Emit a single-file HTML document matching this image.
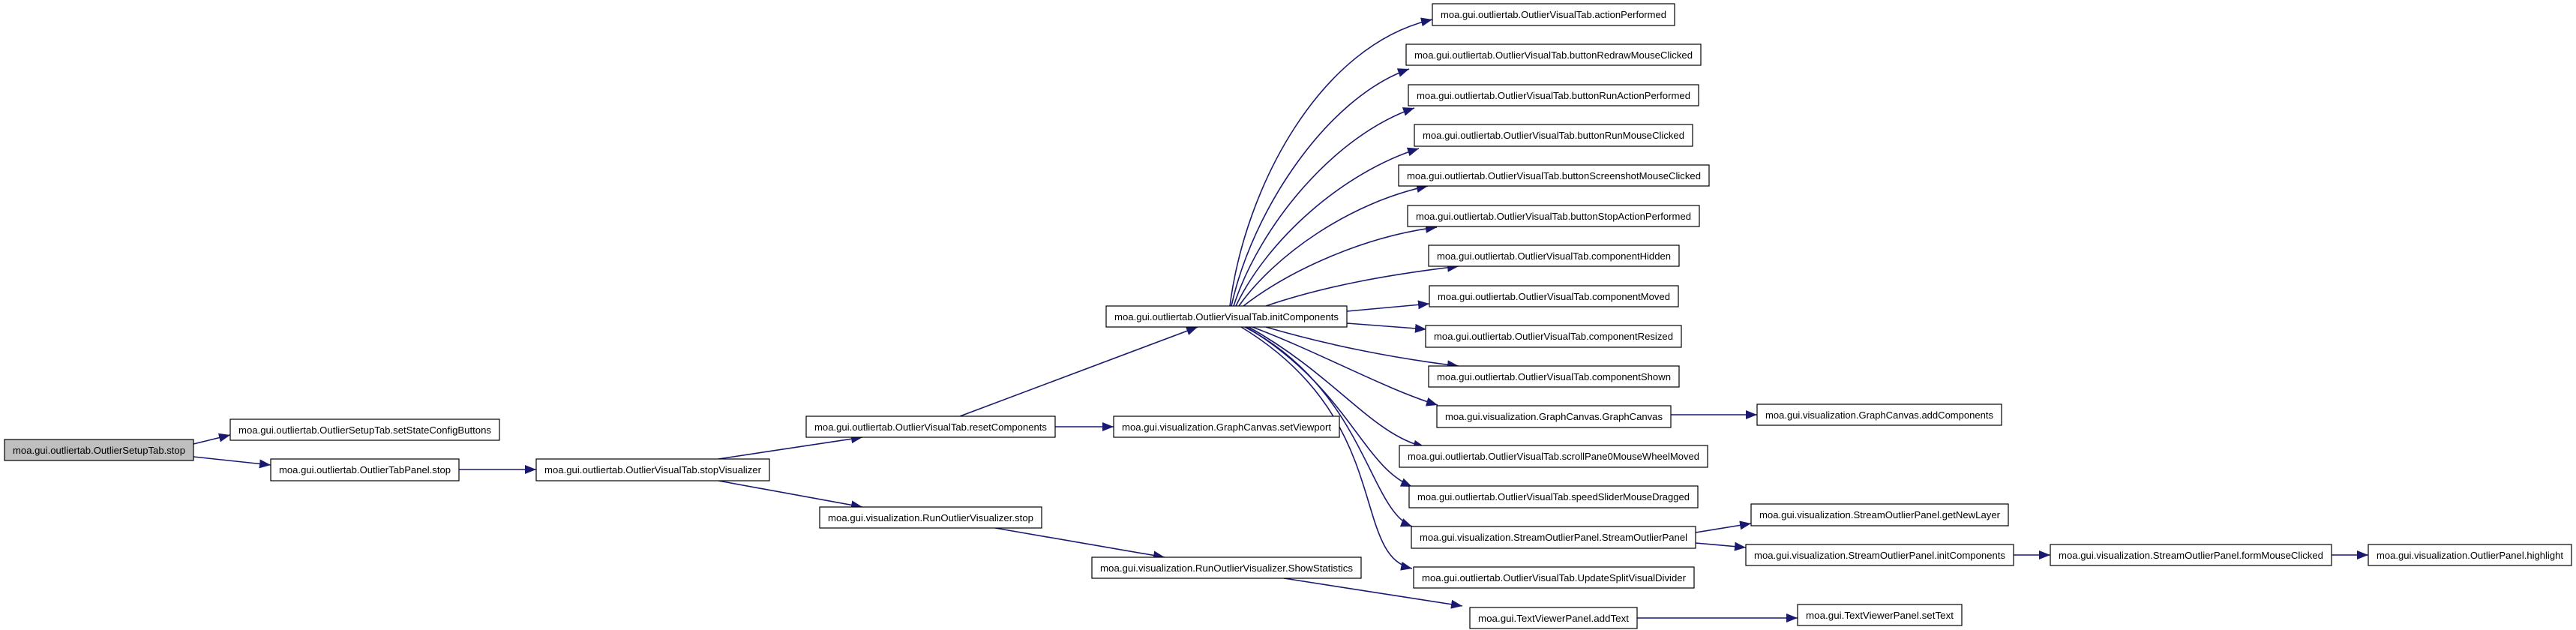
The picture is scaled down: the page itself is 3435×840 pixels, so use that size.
<!DOCTYPE html>
<html><head><meta charset="utf-8"><style>
html,body{margin:0;padding:0;background:#fff;}
svg{display:block;}
text{font-family:"Liberation Sans",sans-serif;font-size:13px;fill:#000;}
</style></head><body>
<svg width="3435" height="840" viewBox="0 0 3435 840" xmlns="http://www.w3.org/2000/svg">
<defs>
<marker id="a" markerWidth="16" markerHeight="12" refX="15" refY="6" orient="auto" markerUnits="userSpaceOnUse">
<polygon points="0,0 15,6 0,12" fill="#191970"/>
</marker>
</defs>
<g fill="none" stroke="#191970" stroke-width="1.6" marker-end="url(#a)">
<path d="M258,592 L307,580"/>
<path d="M258,609 L361,620"/>
<path d="M612,626 L715,626"/>
<path d="M958,612 L1150,583"/>
<path d="M958,641 L1150,676"/>
<path d="M1280,555 L1597,436"/>
<path d="M1407,569 L1485,569"/>
<path d="M1327,704 L1553,743"/>
<path d="M1712,771 L1950,808"/>
<path d="M2183,824 L2397,824"/>
<path d="M2228,553 L2343,553"/>
<path d="M2261,710 L2335,698"/>
<path d="M2261,724 L2328,730"/>
<path d="M2685,740 L2734,740"/>
<path d="M3109,740 L3158,740"/>
<path d="M1640,408 C1660,250 1760,60 1910,26"/>
<path d="M1642,408 C1670,280 1770,130 1879,92"/>
<path d="M1645,408 C1680,300 1780,180 1886,144"/>
<path d="M1648,408 C1690,320 1790,230 1892,198"/>
<path d="M1652,408 C1700,340 1800,270 1904,248"/>
<path d="M1658,408 C1720,360 1820,315 1916,303"/>
<path d="M1688,408 C1770,380 1860,365 1945,355"/>
<path d="M1796,415 L1906,405"/>
<path d="M1796,431 L1902,439"/>
<path d="M1688,436 C1770,460 1860,478 1945,488"/>
<path d="M1670,436 C1760,470 1850,520 1917,540"/>
<path d="M1665,436 C1780,500 1830,580 1900,596"/>
<path d="M1662,436 C1800,520 1815,620 1883,649"/>
<path d="M1660,436 C1820,520 1825,680 1883,702"/>
<path d="M1655,436 C1860,560 1800,740 1883,758"/>
</g>
<g stroke="#000" stroke-width="1.2" fill="#fff">
<rect x="6" y="586" width="252" height="28" fill="#bfbfbf"/>
<rect x="307" y="559" width="359" height="28"/>
<rect x="361" y="612" width="251" height="29"/>
<rect x="715" y="612" width="311" height="29"/>
<rect x="1075" y="555" width="332" height="28"/>
<rect x="1485" y="555" width="301" height="28"/>
<rect x="1093" y="676" width="296" height="28"/>
<rect x="1456" y="743" width="359" height="28"/>
<rect x="1960" y="810" width="223" height="28"/>
<rect x="1475" y="408" width="321" height="28"/>
<rect x="1910" y="5" width="323" height="29"/>
<rect x="1875" y="59" width="393" height="28"/>
<rect x="1878" y="113" width="387" height="28"/>
<rect x="1886" y="166" width="371" height="29"/>
<rect x="1865" y="220" width="414" height="28"/>
<rect x="1877" y="274" width="389" height="28"/>
<rect x="1905" y="327" width="334" height="28"/>
<rect x="1906" y="381" width="332" height="28"/>
<rect x="1901" y="434" width="341" height="29"/>
<rect x="1905" y="488" width="334" height="28"/>
<rect x="1916" y="541" width="312" height="29"/>
<rect x="1866" y="594" width="411" height="29"/>
<rect x="1879" y="648" width="385" height="29"/>
<rect x="1882" y="702" width="379" height="29"/>
<rect x="1885" y="756" width="374" height="28"/>
<rect x="2343" y="539" width="326" height="28"/>
<rect x="2335" y="672" width="343" height="29"/>
<rect x="2328" y="726" width="357" height="28"/>
<rect x="2734" y="726" width="375" height="28"/>
<rect x="3158" y="726" width="271" height="28"/>
<rect x="2397" y="806" width="219" height="28"/>
</g>
<g>
<text x="17" y="605" textLength="230" lengthAdjust="spacingAndGlyphs">moa.gui.outliertab.OutlierSetupTab.stop</text>
<text x="318" y="578" textLength="337" lengthAdjust="spacingAndGlyphs">moa.gui.outliertab.OutlierSetupTab.setStateConfigButtons</text>
<text x="372" y="631" textLength="229" lengthAdjust="spacingAndGlyphs">moa.gui.outliertab.OutlierTabPanel.stop</text>
<text x="726" y="631" textLength="289" lengthAdjust="spacingAndGlyphs">moa.gui.outliertab.OutlierVisualTab.stopVisualizer</text>
<text x="1086" y="574" textLength="310" lengthAdjust="spacingAndGlyphs">moa.gui.outliertab.OutlierVisualTab.resetComponents</text>
<text x="1496" y="574" textLength="279" lengthAdjust="spacingAndGlyphs">moa.gui.visualization.GraphCanvas.setViewport</text>
<text x="1104" y="695" textLength="274" lengthAdjust="spacingAndGlyphs">moa.gui.visualization.RunOutlierVisualizer.stop</text>
<text x="1467" y="762" textLength="337" lengthAdjust="spacingAndGlyphs">moa.gui.visualization.RunOutlierVisualizer.ShowStatistics</text>
<text x="1971" y="829" textLength="201" lengthAdjust="spacingAndGlyphs">moa.gui.TextViewerPanel.addText</text>
<text x="1486" y="427" textLength="299" lengthAdjust="spacingAndGlyphs">moa.gui.outliertab.OutlierVisualTab.initComponents</text>
<text x="1921" y="24" textLength="301" lengthAdjust="spacingAndGlyphs">moa.gui.outliertab.OutlierVisualTab.actionPerformed</text>
<text x="1886" y="78" textLength="371" lengthAdjust="spacingAndGlyphs">moa.gui.outliertab.OutlierVisualTab.buttonRedrawMouseClicked</text>
<text x="1889" y="132" textLength="365" lengthAdjust="spacingAndGlyphs">moa.gui.outliertab.OutlierVisualTab.buttonRunActionPerformed</text>
<text x="1897" y="185" textLength="349" lengthAdjust="spacingAndGlyphs">moa.gui.outliertab.OutlierVisualTab.buttonRunMouseClicked</text>
<text x="1876" y="239" textLength="392" lengthAdjust="spacingAndGlyphs">moa.gui.outliertab.OutlierVisualTab.buttonScreenshotMouseClicked</text>
<text x="1888" y="293" textLength="367" lengthAdjust="spacingAndGlyphs">moa.gui.outliertab.OutlierVisualTab.buttonStopActionPerformed</text>
<text x="1916" y="346" textLength="312" lengthAdjust="spacingAndGlyphs">moa.gui.outliertab.OutlierVisualTab.componentHidden</text>
<text x="1917" y="400" textLength="310" lengthAdjust="spacingAndGlyphs">moa.gui.outliertab.OutlierVisualTab.componentMoved</text>
<text x="1912" y="453" textLength="319" lengthAdjust="spacingAndGlyphs">moa.gui.outliertab.OutlierVisualTab.componentResized</text>
<text x="1916" y="507" textLength="312" lengthAdjust="spacingAndGlyphs">moa.gui.outliertab.OutlierVisualTab.componentShown</text>
<text x="1927" y="560" textLength="290" lengthAdjust="spacingAndGlyphs">moa.gui.visualization.GraphCanvas.GraphCanvas</text>
<text x="1877" y="613" textLength="389" lengthAdjust="spacingAndGlyphs">moa.gui.outliertab.OutlierVisualTab.scrollPane0MouseWheelMoved</text>
<text x="1890" y="667" textLength="363" lengthAdjust="spacingAndGlyphs">moa.gui.outliertab.OutlierVisualTab.speedSliderMouseDragged</text>
<text x="1893" y="721" textLength="357" lengthAdjust="spacingAndGlyphs">moa.gui.visualization.StreamOutlierPanel.StreamOutlierPanel</text>
<text x="1896" y="775" textLength="352" lengthAdjust="spacingAndGlyphs">moa.gui.outliertab.OutlierVisualTab.UpdateSplitVisualDivider</text>
<text x="2354" y="558" textLength="304" lengthAdjust="spacingAndGlyphs">moa.gui.visualization.GraphCanvas.addComponents</text>
<text x="2346" y="691" textLength="321" lengthAdjust="spacingAndGlyphs">moa.gui.visualization.StreamOutlierPanel.getNewLayer</text>
<text x="2339" y="745" textLength="335" lengthAdjust="spacingAndGlyphs">moa.gui.visualization.StreamOutlierPanel.initComponents</text>
<text x="2745" y="745" textLength="353" lengthAdjust="spacingAndGlyphs">moa.gui.visualization.StreamOutlierPanel.formMouseClicked</text>
<text x="3169" y="745" textLength="249" lengthAdjust="spacingAndGlyphs">moa.gui.visualization.OutlierPanel.highlight</text>
<text x="2408" y="825" textLength="197" lengthAdjust="spacingAndGlyphs">moa.gui.TextViewerPanel.setText</text>
</g>
</svg>
</body></html>
